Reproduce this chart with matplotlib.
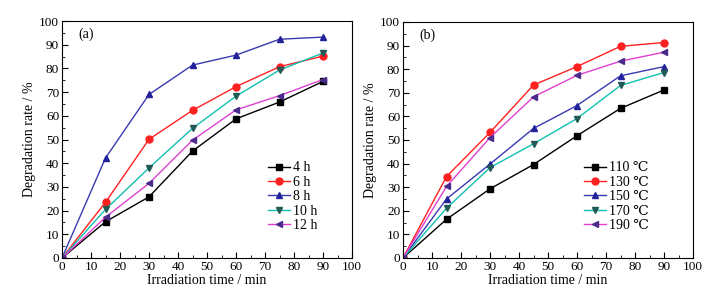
import matplotlib
matplotlib.use("Agg")
import matplotlib.pyplot as plt
from matplotlib.ticker import MultipleLocator

plt.rcParams['font.family'] = ['Liberation Serif', 'DejaVu Serif']
plt.rcParams['mathtext.fontset'] = 'stix'

time = [0, 15, 30, 45, 60, 75, 90]

labels_a = ['4 h', '6 h', '8 h', '10 h', '12 h']
a_4h = [0, 15.3, 25.8, 45.1, 58.7, 65.8, 74.5]
a_6h = [0, 23.5, 50.1, 62.3, 72.3, 80.7, 85.2]
a_8h = [0, 42.2, 69.0, 81.4, 85.6, 92.3, 93.2]
a_10h = [0, 20.5, 38.0, 54.7, 68.3, 79.3, 86.5]
a_12h = [0, 17.2, 31.5, 49.7, 62.5, 68.5, 75.3]

labels_b = ['110 ℃', '130 ℃', '150 ℃', '170 ℃', '190 ℃']
b_110 = [0, 16.4, 29.3, 39.6, 51.8, 63.4, 71.2]
b_130 = [0, 34.5, 53.2, 73.3, 81.1, 89.7, 91.3]
b_150 = [0, 25.0, 39.8, 54.9, 64.6, 77.2, 81.1]
b_170 = [0, 21.1, 38.3, 48.4, 59.1, 73.1, 78.6]
b_190 = [0, 30.3, 51.0, 68.3, 77.4, 83.4, 87.2]

styles = [
    dict(color='#000000', marker='s', mfc='#000000', mec='#000000'),
    dict(color='#ff2020', marker='o', mfc='#ff2020', mec='#ff2020'),
    dict(color='#3a3ab0', marker='^', mfc='#22229a', mec='#22229a'),
    dict(color='#10bfb0', marker='v', mfc='#1f5a55', mec='#1f5a55'),
    dict(color='#e040d0', marker='<', mfc='#4a2a8a', mec='#4a2a8a'),
]

fig = plt.figure(figsize=(7.22, 2.92), dpi=100)
ax1 = fig.add_axes([62/722, 1-258/292, 290/722, 237/292])
ax2 = fig.add_axes([403/722, 1-258/292, 290/722, 236/292])

def draw(ax, series, labels, tag, lx):
    for y, lab, st in zip(series, labels, styles):
        ax.plot(time, y, label=lab, lw=1.0, ms=5, **st)
    ax.set_xlim(0, 100)
    ax.set_ylim(0, 100)
    ax.xaxis.set_major_locator(MultipleLocator(10))
    ax.yaxis.set_major_locator(MultipleLocator(10))
    ax.xaxis.set_minor_locator(MultipleLocator(5))
    ax.yaxis.set_minor_locator(MultipleLocator(5))
    ax.tick_params(which='both', direction='in', labelsize=9.5, pad=2)
    ax.tick_params(which='major', length=4)
    ax.tick_params(which='minor', length=2)
    ax.set_xlabel('Irradiation time / min', fontsize=10, labelpad=1)
    ax.set_ylabel('Degradation rate / %', fontsize=10, labelpad=2)
    ax.text(0.055, 0.945, tag, transform=ax.transAxes, fontsize=10, va='center', ha='left')
    ax.legend(loc='lower left', bbox_to_anchor=(lx, 0.11), frameon=False,
              fontsize=10, handlelength=1.6, handletextpad=0.2, labelspacing=0.1,
              borderaxespad=0, borderpad=0)

draw(ax1, [a_4h, a_6h, a_8h, a_10h, a_12h], labels_a, '(a)', 0.71)
draw(ax2, [b_110, b_130, b_150, b_170, b_190], labels_b, '(b)', 0.625)

fig.savefig('out.png', dpi=100)
